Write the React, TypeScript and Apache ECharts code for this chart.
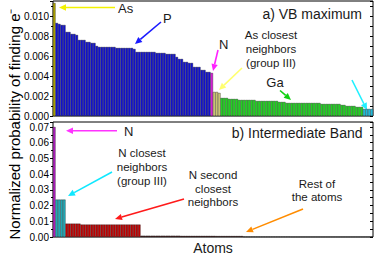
import React, { useEffect, useRef } from "react";
import * as echarts from "echarts";

// ---- Panel a) VB maximum ----
const vbAs = [0.0113];
const vbP = [
  0.0093, 0.0092, 0.0091, 0.0091, 0.0084, 0.0084, 0.0082, 0.0082, 0.0081, 0.0076,
  0.0076, 0.0076, 0.0074, 0.0074, 0.0073, 0.0073, 0.0070, 0.0069, 0.0069, 0.0069,
  0.0069, 0.0069, 0.0069, 0.0069, 0.0068, 0.0068, 0.0068, 0.0068, 0.0068, 0.0068,
  0.0068, 0.0067, 0.0064, 0.0064, 0.0064, 0.0064, 0.0064, 0.0064, 0.0064, 0.0064,
  0.0063, 0.0063, 0.0063, 0.0063, 0.0062, 0.0062, 0.0062, 0.0062, 0.0059, 0.0057,
  0.0057, 0.0054, 0.0054, 0.0053, 0.0053, 0.0049, 0.0049, 0.0049, 0.0046, 0.0046,
  0.0044, 0.0044,
];
const vbN = [0.0043];
const vbAsNeighbors = [0.0024, 0.0024, 0.0023];
const vbGa = [
  0.0018, 0.0018, 0.0018, 0.0017, 0.0017, 0.0017, 0.0017, 0.0016, 0.0016, 0.0016,
  0.0016, 0.0016, 0.0016, 0.0016, 0.0015, 0.0015, 0.0015, 0.0015, 0.0015, 0.0015,
  0.0015, 0.0015, 0.0015, 0.0014, 0.0014, 0.0014, 0.0013, 0.0013, 0.0013, 0.0013,
  0.0013, 0.0013, 0.0013, 0.0013, 0.0013, 0.0013, 0.0013, 0.0013, 0.0013, 0.0013,
  0.0012, 0.0012, 0.0012, 0.0012, 0.0012, 0.0012, 0.0012, 0.0012, 0.0011, 0.0011,
  0.0010, 0.0010, 0.0010, 0.0010, 0.0009, 0.0009, 0.0009,
];
const vbNNeighbors = [0.0007, 0.0007, 0.0007, 0.0007];

// ---- Panel b) Intermediate Band ----
const ibN = [0.07];
const ibNNeighbors = [0.0238, 0.0238, 0.0238, 0.0238];
const ibNSecond = [
  0.0085, 0.0085, 0.0085, 0.0085, 0.0085, 0.0085, 0.0079, 0.0079, 0.0079, 0.0079,
  0.0079, 0.0079, 0.0079, 0.0079, 0.0079, 0.0079, 0.0079, 0.0079, 0.0079, 0.0079,
  0.0079, 0.0079, 0.0079, 0.0079, 0.0079, 0.0079, 0.0079, 0.0079, 0.0079, 0.0079,
];
const ibRest = [
  0.0008, 0.0008, 0.0008, 0.0008, 0.0008, 0.0008, 0.0008, 0.0008, 0.0008, 0.0008,
  0.0008, 0.0008, 0.0008, 0.0008, 0.0008, 0.0008, 0.0007, 0.0007, 0.0007, 0.0007,
  0.0007, 0.0007, 0.0007, 0.0007, 0.0007, 0.0007, 0.0007, 0.0007, 0.0007, 0.0007,
  0.0006, 0.0006, 0.0006, 0.0006, 0.0006, 0.0006, 0.0006, 0.0006, 0.0006, 0.0006,
  0.0006, 0.0002, 0.0002, 0.0002, 0.0002, 0.0002, 0.0002, 0.0002, 0.0002, 0.0002,
  0.0002, 0.0002, 0.0002, 0.0002, 0.0002, 0.0002, 0.0002, 0.0002, 0.0002, 0.0002,
  0.0001, 0.0001, 0.0001, 0.0001, 0.0001, 0.0001, 0.0001, 0.0001, 0.0001, 0.0001,
  0.0001, 0.0001, 0.0001, 0.0001, 0.0001, 0.0001, 0.0001, 0.0001, 0.0001, 0.0001,
  0.0001, 0.0001, 0.0001, 0.0001, 0.0001, 0.0001, 0.0001, 0.0001, 0.0001, 0.0001,
  0.0001, 0.0001, 0.0001,
];

const FONT = '"Liberation Sans", Arial, sans-serif';

function groups(list: [number[], string][]) {
  const out: any[] = [];
  list.forEach(([vals, color]) =>
    vals.forEach((v) => out.push({ value: v, itemStyle: { color } }))
  );
  return out;
}

function arrow(x1: number, y1: number, x2: number, y2: number, color: string) {
  const dx = x2 - x1;
  const dy = y2 - y1;
  const len = Math.sqrt(dx * dx + dy * dy);
  const ux = dx / len;
  const uy = dy / len;
  const hl = 7;
  const hw = 3.2;
  const bx = x2 - ux * hl;
  const by = y2 - uy * hl;
  return [
    {
      type: "line",
      shape: { x1, y1, x2: bx, y2: by },
      style: { stroke: color, lineWidth: 1.6 },
      silent: true,
    },
    {
      type: "polygon",
      shape: {
        points: [
          [x2, y2],
          [bx - uy * hw, by + ux * hw],
          [bx + uy * hw, by - ux * hw],
        ],
      },
      style: { fill: color },
      silent: true,
    },
  ];
}

function label(x: number, y: number, text: string, size: number, align = "center", lh = 14) {
  return {
    type: "text",
    x,
    y,
    silent: true,
    style: {
      text,
      fill: "#1a1a1a",
      fontSize: size,
      fontFamily: FONT,
      textAlign: align,
      textVerticalAlign: "middle",
      lineHeight: lh,
    },
  };
}

export default function App() {
  const ref = useRef<HTMLDivElement>(null);

  useEffect(() => {
    if (!ref.current) return;
    document.body.style.margin = "0";
    const chart = echarts.init(ref.current, undefined, { renderer: "svg" });

    const topData = groups([
      [vbAs, "#b3a800"],
      [vbP, "#1212d8"],
      [vbN, "#e020e0"],
      [vbAsNeighbors, "#d6cf78"],
      [vbGa, "#22dd22"],
      [vbNNeighbors, "#1ec4e6"],
    ]);
    const botData = groups([
      [ibN, "#b41cc4"],
      [ibNNeighbors, "#1fb2bf"],
      [ibNSecond, "#c80000"],
      [ibRest, "#4a1010"],
    ]);
    const topCats = topData.map((_, i) => String(i + 1));
    const botCats = botData.map((_, i) => String(i + 1));

    const leftAxis = (grid: number, max: number, interval: number, digits: number) => ({
      type: "value",
      gridIndex: grid,
      min: 0,
      max,
      interval,
      position: "left",
      axisLine: { show: false },
      axisTick: { show: true, inside: false, length: 3, lineStyle: { color: "#000" } },
      minorTick: { show: true, splitNumber: 2, length: 2, lineStyle: { color: "#000" } },
      splitLine: { show: false },
      axisLabel: {
        color: "#000",
        fontSize: 10,
        fontFamily: FONT,
        margin: 4,
        formatter: (v: number) => (v > max - interval * 0.25 ? "" : v.toFixed(digits)),
      },
    });
    const rightAxis = (grid: number, max: number, interval: number) => ({
      type: "value",
      gridIndex: grid,
      min: 0,
      max,
      interval,
      position: "right",
      axisLine: { show: false },
      axisTick: { show: true, inside: true, length: 3, lineStyle: { color: "#000" } },
      minorTick: { show: true, splitNumber: 2, length: 3, lineStyle: { color: "#000" } },
      splitLine: { show: false },
      axisLabel: { show: false },
    });
    const xAxis = (grid: number, cats: string[]) => ({
      type: "category",
      gridIndex: grid,
      data: cats,
      boundaryGap: true,
      axisLine: { show: false },
      axisTick: { show: false },
      axisLabel: { show: false },
      splitLine: { show: false },
    });

    const graphic: any[] = [
      // y axis title
      {
        type: "text",
        x: 14,
        y: 124,
        rotation: Math.PI / 2,
        silent: true,
        style: {
          text: "Normalized probability of finding e\u207B",
          fill: "#000",
          fontSize: 15,
          fontFamily: FONT,
          textAlign: "center",
          textVerticalAlign: "middle",
        },
      },
      label(213, 248, "Atoms", 14),
      // panel a
      label(362, 13.5, "a) VB maximum", 14, "right"),
      label(118, 8.5, "As", 13, "left"),
      label(163, 18, "P", 13, "left"),
      label(219, 44, "N", 13, "left"),
      label(271, 49, "As closest\nneighbors\n(group III)", 11.5, "center", 13.8),
      label(275, 82, "Ga", 13),
      ...arrow(115, 7.5, 59, 7.5, "#f2f200"),
      ...arrow(161, 22, 135, 44, "#1a1aff"),
      ...arrow(218, 50, 213, 71, "#ff22ff"),
      ...arrow(242, 68, 219, 90, "#ffff70"),
      ...arrow(280, 90.5, 291, 100, "#10d010"),
      ...arrow(352, 80, 367, 110, "#20f0ff"),
      // panel b
      label(362.5, 133, "b) Intermediate Band", 14, "right"),
      label(124, 131, "N", 13, "left"),
      label(142, 167, "N closest\nneighbors\n(group III)", 11.5, "center", 14.2),
      label(213, 188.7, "N second\nclosest\nneighbors", 11.5, "center", 13.3),
      label(317, 190, "Rest of\nthe atoms", 11.5, "center", 13),
      ...arrow(117, 130.7, 66, 130.7, "#ff33ff"),
      ...arrow(112, 172, 68, 196, "#10e8ff"),
      ...arrow(184, 199, 115, 219, "#ff1a1a"),
      ...arrow(303, 209, 246, 232, "#ff8c00"),
    ];

    chart.setOption({
      animation: false,
      backgroundColor: "#fff",
      grid: [
        { left: 53, top: 1, width: 320, height: 115, show: true, borderColor: "#000", borderWidth: 1, backgroundColor: "transparent" },
        { left: 53, top: 122, width: 320, height: 115, show: true, borderColor: "#000", borderWidth: 1, backgroundColor: "transparent" },
      ],
      xAxis: [xAxis(0, topCats), xAxis(1, botCats)],
      yAxis: [
        leftAxis(0, 0.0115, 0.002, 3),
        rightAxis(0, 0.0115, 0.002),
        leftAxis(1, 0.0732, 0.01, 2),
        rightAxis(1, 0.0732, 0.01),
      ],
      series: [
        {
          type: "bar",
          xAxisIndex: 0,
          yAxisIndex: 0,
          data: topData,
          barCategoryGap: "0%",
          itemStyle: { borderColor: "#111", borderWidth: 0.35 },
        },
        {
          type: "bar",
          xAxisIndex: 1,
          yAxisIndex: 2,
          data: botData,
          barCategoryGap: "0%",
          itemStyle: { borderColor: "#111", borderWidth: 0.35 },
        },
      ],
      graphic,
    });

    return () => chart.dispose();
  }, []);

  return (
    <div
      ref={ref}
      style={{ position: "absolute", left: 0, top: 0, width: 374, height: 257 }}
    />
  );
}
